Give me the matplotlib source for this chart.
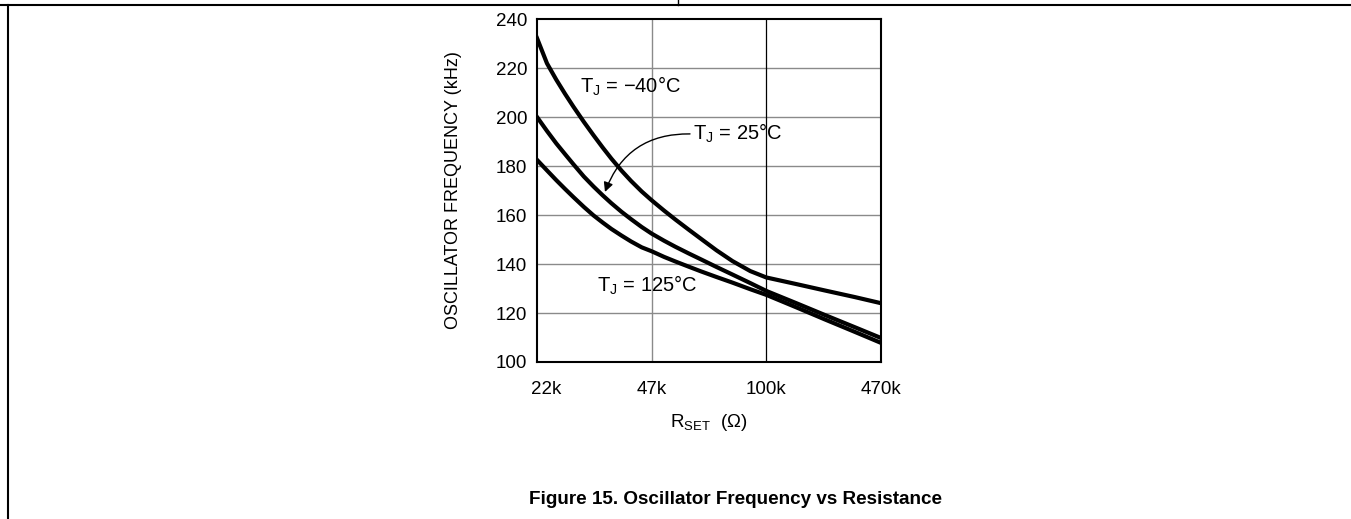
import numpy as np
import matplotlib
matplotlib.use("Agg")
import matplotlib.pyplot as plt
from matplotlib.lines import Line2D
import matplotlib.transforms as mtransforms

plt.rcParams['font.family'] = ['Liberation Sans', 'DejaVu Sans']
plt.rcParams['mathtext.fontset'] = 'custom'
plt.rcParams['mathtext.rm'] = 'Liberation Sans'
plt.rcParams['mathtext.it'] = 'Liberation Sans'

# ---- data ----
x_ticks_k = [22, 47, 100, 470]
x_tick_labels = ['22k', '47k', '100k', '470k']
y_ticks = [100, 120, 140, 160, 180, 200, 220, 240]

r_set_k = [22, 23.5, 25, 26.5, 28, 30, 32, 34, 36, 38.5, 41, 44, 47, 51, 55, 60, 65, 72, 80, 90,
           100, 150, 220, 330, 470]
f_m40 = [232.2, 221.9, 215.2, 209.4, 204.2, 198.0, 192.5, 187.5, 183.0, 178.1, 173.9, 169.6, 166.0,
         161.8, 158.1, 154.0, 150.3, 145.6, 141.2, 137.1, 134.5, 131.8, 129.2, 126.5, 124.0]
f_25 = [200.0, 194.3, 189.2, 184.8, 180.7, 175.7, 171.6, 168.0, 164.8, 161.3, 158.3, 155.1, 152.4,
        149.5, 147.0, 144.3, 141.9, 138.8, 135.7, 132.2, 129.0, 124.0, 119.2, 114.2, 109.8]
f_125 = [182.5, 178.2, 174.2, 170.6, 167.3, 163.3, 159.8, 156.9, 154.3, 151.6, 149.2, 146.8, 145.2,
         142.9, 141.0, 138.9, 137.0, 134.7, 132.4, 129.7, 127.4, 122.3, 117.4, 112.3, 107.8]

# custom axis: equal spacing between the labelled resistances (log inside each segment)
_lt = np.log10(np.array(x_ticks_k, dtype=float))
_pos = np.arange(len(x_ticks_k), dtype=float)

def fwd(r):
    r = np.asarray(r, dtype=float)
    lr = np.log10(np.clip(r, 1e-9, None))
    s_lo = (_pos[1] - _pos[0]) / (_lt[1] - _lt[0])
    s_hi = (_pos[-1] - _pos[-2]) / (_lt[-1] - _lt[-2])
    out = np.interp(lr, _lt, _pos)
    out = np.where(lr < _lt[0], _pos[0] + (lr - _lt[0]) * s_lo, out)
    out = np.where(lr > _lt[-1], _pos[-1] + (lr - _lt[-1]) * s_hi, out)
    return out

def inv(p):
    p = np.asarray(p, dtype=float)
    s_lo = (_lt[1] - _lt[0]) / (_pos[1] - _pos[0])
    s_hi = (_lt[-1] - _lt[-2]) / (_pos[-1] - _pos[-2])
    out = np.interp(p, _pos, _lt)
    out = np.where(p < _pos[0], _lt[0] + (p - _pos[0]) * s_lo, out)
    out = np.where(p > _pos[-1], _lt[-1] + (p - _pos[-1]) * s_hi, out)
    return 10 ** out

W, H = 1351, 519
fig = plt.figure(figsize=(W / 100, H / 100), dpi=100)
ax = fig.add_axes([537 / W, 1 - 362 / H, (881 - 537) / W, (362 - 19) / H])
ax.set_xscale('function', functions=(fwd, inv))
ax.set_xlim(22, 470)
ax.set_ylim(100, 240)

# grid
for yv in y_ticks[1:-1]:
    ax.axhline(yv, color='#8a8a8a', lw=1.0, zorder=1)
ax.axvline(47, color='#8a8a8a', lw=1.0, zorder=1)
ax.axvline(100, color='black', lw=0.9, zorder=1)

for ys in (f_m40, f_25, f_125):
    ax.plot(r_set_k, ys, color='black', lw=3.0, solid_joinstyle='round', zorder=3)

ax.set_xticks(x_ticks_k)
ax.set_xticklabels(x_tick_labels)
ax.xaxis.set_minor_locator(matplotlib.ticker.NullLocator())
ax.set_yticks(y_ticks)
ax.tick_params(axis='both', length=0, labelsize=13.5)
ax.tick_params(axis='x', pad=14)
ax.tick_params(axis='y', pad=7)
lbl0 = ax.get_xticklabels()[0]
lbl0.set_transform(lbl0.get_transform() + mtransforms.ScaledTranslation(9 / 100, 0, fig.dpi_scale_trans))

for s in ax.spines.values():
    s.set_linewidth(1.5)
    s.set_color('black')

ax.set_ylabel('OSCILLATOR FREQUENCY (kHz)', fontsize=13)
ax.yaxis.set_label_coords(-0.218, 0.5)
ax.set_xlabel(r'R$_{\rm SET}$  (Ω)', fontsize=13.5)
ax.xaxis.set_label_coords(0.5, -0.146)

ax.text(29.2, 209.8, r'T$_{\rm J}$ = −40°C', fontsize=14.5, ha='left', va='baseline', zorder=4)
ax.text(61.7, 190.6, r'T$_{\rm J}$ = 25°C', fontsize=14.5, ha='left', va='baseline', zorder=4)
ax.text(32.7, 128.6, r'T$_{\rm J}$ = 125°C', fontsize=14.5, ha='left', va='baseline', zorder=4)
ax.annotate('', xy=(34.5, 169.4), xytext=(60.5, 193.1),
            arrowprops=dict(arrowstyle='-|>', lw=1.0, color='black', mutation_scale=14,
                            shrinkA=0, shrinkB=0, connectionstyle='arc3,rad=0.35'),
            zorder=4)

fig.text(735.5 / W, 1 - 500 / H, 'Figure 15. Oscillator Frequency vs Resistance',
         fontsize=13.6, fontweight='bold', ha='center', va='center')

# page frame lines
fig.add_artist(Line2D([0, 1], [1 - 5 / H, 1 - 5 / H], transform=fig.transFigure, color='black', lw=1.5))
fig.add_artist(Line2D([8 / W, 8 / W], [1 - 5 / H, 1 - 518 / H], transform=fig.transFigure, color='black', lw=1.5))
fig.add_artist(Line2D([678 / W, 678 / W], [1, 1 - 5 / H], transform=fig.transFigure, color='black', lw=1.0))

fig.savefig('out.png', dpi=100)
